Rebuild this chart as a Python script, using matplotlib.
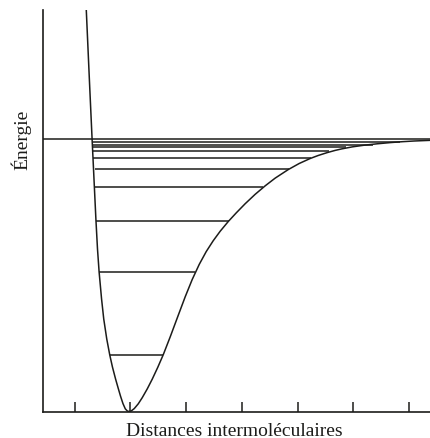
import matplotlib
matplotlib.use("Agg")
import matplotlib.pyplot as plt

# Potential energy curve (distance in tick units, energy in arbitrary units)
curve_r = [1.210, 1.265, 1.314, 1.383, 1.411, 1.440, 1.484, 1.523, 1.577, 1.631,
           1.679, 1.735, 1.781, 1.823, 1.867, 1.909, 1.944, 1.971,
           2.016, 2.070, 2.142, 2.213, 2.303, 2.392, 2.491, 2.590, 2.715, 2.858,
           2.984, 3.109, 3.235, 3.360, 3.486, 3.611, 3.754, 3.898, 4.059, 4.238,
           4.418, 4.597, 4.830, 5.027, 5.224, 5.367, 5.529, 5.672, 5.797, 5.977,
           6.192, 6.425, 6.658, 6.873, 7.088, 7.392]
curve_E = [401.5, 332.5, 272.5, 191.5, 162.5, 139.5, 112.5, 92.5, 72.5, 56.5,
           44.5, 32.5, 23.5, 15.5, 8.0, 2.7, 0.6, 0.0,
           0.6, 2.9, 7.7, 13.8, 22.6, 32.3, 44.1, 56.8, 74.7, 96.1,
           114.8, 132.0, 147.1, 159.9, 170.8, 180.3, 189.9, 198.6, 207.8, 217.2,
           225.7, 233.4, 241.9, 248.0, 253.0, 256.0, 258.9, 261.1, 262.7, 264.6,
           266.3, 267.7, 268.9, 269.8, 270.5, 271.2]

# Vibrational levels
level_E = [56.8, 139.2, 191.0, 224.8, 242.8, 253.8, 260.1, 264.1, 266.8, 269.5]
level_left = [1.627, 1.440, 1.383, 1.362, 1.372, 1.335, 1.332, 1.330, 1.328, 1.326]
level_right = [2.590, 3.160, 3.772, 4.385, 4.845, 5.245, 5.570, 5.870, 6.350, 6.840]

dissociation_E = 272.5
x_ticks = [1, 2, 3, 4, 5, 6, 7]

ink = "#1c1c1a"
serif = ["Liberation Serif", "DejaVu Serif"]

fig = plt.figure(figsize=(4.31, 4.39), dpi=100)
ax = fig.add_axes([43 / 431, 26.5 / 439, 1 - 43 / 431, (412.5 - 11) / 439])

ax.plot(curve_r, curve_E, color=ink, lw=1.1, solid_joinstyle="round")
ax.hlines(level_E, level_left, level_right, color=ink, lw=1.1)
ax.axhline(dissociation_E, color=ink, lw=1.1)

ax.set_xlim(0.434, 7.39)
ax.set_ylim(0, 401.5)
ax.set_xticks(x_ticks)
ax.set_xticklabels([])
ax.set_yticks([])
ax.tick_params(axis="x", direction="in", length=7, width=1.1, color=ink)
for s in ["top", "right"]:
    ax.spines[s].set_visible(False)
for s in ["left", "bottom"]:
    ax.spines[s].set_color(ink)
    ax.spines[s].set_linewidth(1.2)

fig.text(234 / 431, (439 - 435.7) / 439, "Distances intermoléculaires",
         ha="center", va="baseline", fontsize=14, family=serif, color=ink)
fig.text(21 / 431, (439 - 140) / 439, "Énergie", rotation=90,
         ha="center", va="center", fontsize=14, family=serif, color=ink)

fig.savefig("out.png", dpi=100, facecolor="white")
